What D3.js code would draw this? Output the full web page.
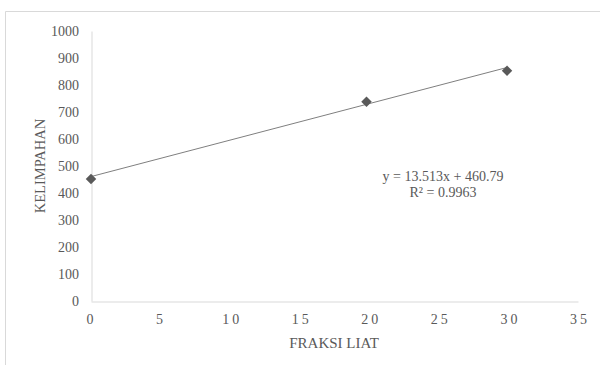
<!DOCTYPE html>
<html><head><meta charset="utf-8">
<script src="https://cdn.jsdelivr.net/npm/d3@7/dist/d3.min.js"></script>
<style>body{margin:0;background:#fff}svg{display:block}</style>
</head><body>
<script>
const xValues = [0, 19.8, 29.9];
const yValues = [452, 738, 853];
const xTicks = [0, 5, 10, 15, 20, 25, 30, 35];
const yTicks = [0, 100, 200, 300, 400, 500, 600, 700, 800, 900, 1000];
const slope = 13.513, intercept = 460.79;
const eqLabel = "y = 13.513x + 460.79";
const r2Label = "R\u00B2 = 0.9963";
const xTitle = "FRAKSI LIAT";
const yTitle = "KELIMPAHAN";

const W = 600, H = 367;
const svg = d3.select("body").append("svg").attr("width", W).attr("height", H);
const font = "'Liberation Serif', 'Times New Roman', serif";
const txt = "#595959";

// chart border (top & left visible)
svg.append("line").attr("x1", 5.5).attr("x2", W).attr("y1", 11.5).attr("y2", 11.5).attr("stroke", "#d9d9d9");
svg.append("line").attr("x1", 5.5).attr("x2", 5.5).attr("y1", 11.5).attr("y2", 365).attr("stroke", "#d9d9d9");

const x = d3.scaleLinear().domain([0, 35]).range([91, 578]);
const y = d3.scaleLinear().domain([0, 1000]).range([301, 31]);

// axes
const xa = svg.append("g").attr("transform", `translate(0,${y(0)+0.5})`)
  .call(d3.axisBottom(x).tickValues(xTicks).tickSize(0).tickPadding(14).tickFormat(d3.format("d")));
xa.select(".domain").attr("stroke", "#d9d9d9");
xa.selectAll("text").attr("font-family", font).attr("font-size", 14).attr("fill", txt)
  .attr("letter-spacing", "3px").attr("dx", d => d >= 10 ? "1.5px" : 0).attr("dy", "0.62em");

const ya = svg.append("g").attr("transform", `translate(${x(0)+0.5},0)`)
  .call(d3.axisLeft(y).tickValues(yTicks).tickSize(0).tickPadding(12.5).tickFormat(d3.format("d")));
ya.select(".domain").attr("stroke", "#d9d9d9");
ya.selectAll("text").attr("font-family", font).attr("font-size", 14).attr("fill", txt);

// trendline
svg.append("line")
  .attr("x1", x(0)).attr("y1", y(intercept))
  .attr("x2", x(d3.max(xValues))).attr("y2", y(intercept + slope * d3.max(xValues)))
  .attr("stroke", "#7f7f7f").attr("stroke-width", 1);

// markers
svg.selectAll("path.pt").data(xValues.map((v, i) => [v, yValues[i]])).enter()
  .append("path").attr("class", "pt")
  .attr("d", d3.symbol().type(d3.symbolDiamond2).size(70))
  .attr("transform", d => `translate(${x(d[0])},${y(d[1])})`)
  .attr("fill", "#595959");

// equation
svg.append("text").attr("x", 443).attr("y", 181).attr("text-anchor", "middle")
  .attr("font-family", font).attr("font-size", 14).attr("fill", txt).text(eqLabel);
svg.append("text").attr("x", 443).attr("y", 196.5).attr("text-anchor", "middle")
  .attr("font-family", font).attr("font-size", 14).attr("fill", txt).text(r2Label);

// titles
svg.append("text").attr("x", 334).attr("y", 348).attr("text-anchor", "middle")
  .attr("font-family", font).attr("font-size", 15).attr("fill", txt).text(xTitle);
svg.append("text").attr("transform", `translate(45,${(y(0)+y(1000))/2}) rotate(-90)`)
  .attr("text-anchor", "middle")
  .attr("font-family", font).attr("font-size", 14.5).attr("fill", txt).text(yTitle);
</script>
</body></html>
